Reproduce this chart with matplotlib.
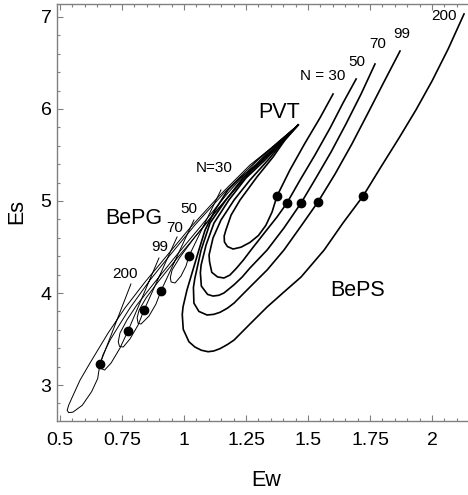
import matplotlib
matplotlib.use("Agg")
import matplotlib.pyplot as plt
from matplotlib.ticker import MultipleLocator

plt.rcParams['font.family'] = ['Liberation Sans', 'DejaVu Sans']

n_values = [30, 50, 70, 99, 200]

# BePS curves (thick): from PVT down the left branch, round the bottom, up to the labelled end
beps30_ew = [1.460, 1.407, 1.359, 1.294, 1.226, 1.190, 1.169, 1.162, 1.163, 1.175, 1.198, 1.230, 1.266, 1.300,
             1.330, 1.355, 1.375, 1.427, 1.488, 1.548, 1.601]
beps30_es = [5.826, 5.663, 5.478, 5.261, 5.011, 4.848, 4.685, 4.620, 4.555, 4.505, 4.478, 4.498, 4.550, 4.625,
             4.735, 4.880, 5.054, 5.337, 5.630, 5.902, 6.163]

beps50_ew = [1.460, 1.395, 1.339, 1.266, 1.202, 1.149, 1.117, 1.101, 1.103, 1.112, 1.135, 1.161, 1.185, 1.210,
             1.240, 1.270, 1.327, 1.375, 1.415, 1.468, 1.528, 1.589, 1.641, 1.694]
beps50_es = [5.826, 5.630, 5.446, 5.228, 5.011, 4.793, 4.598, 4.413, 4.340, 4.225, 4.175, 4.163, 4.195, 4.265,
             4.360, 4.467, 4.663, 4.826, 4.978, 5.228, 5.500, 5.793, 6.065, 6.326]

beps70_ew = [1.460, 1.391, 1.327, 1.250, 1.181, 1.121, 1.089, 1.069, 1.066, 1.070, 1.095, 1.117, 1.140, 1.161,
             1.202, 1.235, 1.266, 1.335, 1.403, 1.472, 1.532, 1.593, 1.653, 1.714, 1.770]
beps70_es = [5.826, 5.630, 5.446, 5.250, 5.011, 4.761, 4.522, 4.304, 4.220, 4.075, 3.985, 3.967, 3.975, 4.000,
             4.090, 4.175, 4.272, 4.467, 4.707, 4.978, 5.250, 5.533, 5.837, 6.163, 6.489]

beps99_ew = [1.460, 1.387, 1.315, 1.238, 1.169, 1.105, 1.069, 1.044, 1.038, 1.040, 1.060, 1.093, 1.120, 1.145,
             1.175, 1.202, 1.266, 1.335, 1.403, 1.472, 1.540, 1.609, 1.677, 1.742, 1.806, 1.871]
beps99_es = [5.826, 5.630, 5.435, 5.250, 5.011, 4.761, 4.467, 4.163, 4.060, 3.890, 3.800, 3.761, 3.768, 3.790,
             3.835, 3.891, 4.065, 4.250, 4.467, 4.728, 4.989, 5.293, 5.620, 5.957, 6.293, 6.630]

beps200_ew = [1.460, 1.379, 1.306, 1.226, 1.177, 1.125, 1.085, 1.060, 1.036, 1.012, 0.996, 0.993, 0.997, 1.020,
              1.044, 1.070, 1.097, 1.120, 1.145, 1.175, 1.202, 1.266, 1.335, 1.403, 1.472, 1.565, 1.641, 1.722,
              1.794, 1.867, 1.935, 2.000, 2.065, 2.129]
beps200_es = [5.826, 5.609, 5.424, 5.250, 5.120, 4.902, 4.685, 4.467, 4.250, 4.033, 3.848, 3.765, 3.605, 3.470,
              3.413, 3.378, 3.362, 3.370, 3.395, 3.440, 3.489, 3.663, 3.848, 4.011, 4.174, 4.467, 4.761, 5.054,
              5.370, 5.685, 5.989, 6.304, 6.652, 7.033]

# BePG curves (thin): from PVT down to the tip, back up through the dot to the labelled end
bepg30_ew = [1.460, 1.399, 1.319, 1.226, 1.125, 1.044, 0.984, 0.952, 0.945, 0.948, 0.964, 0.988, 1.008, 1.020, 1.149]
bepg30_es = [5.826, 5.674, 5.467, 5.185, 4.880, 4.609, 4.391, 4.250, 4.170, 4.120, 4.109, 4.185, 4.293, 4.402, 5.120]

bepg50_ew = [1.460, 1.391, 1.306, 1.194, 1.085, 0.976, 0.895, 0.847, 0.819, 0.811, 0.815, 0.827, 0.859, 0.887, 0.907, 1.040]
bepg50_es = [5.826, 5.663, 5.446, 5.098, 4.739, 4.391, 4.120, 3.946, 3.815, 3.730, 3.670, 3.663, 3.750, 3.880, 4.022, 4.793]

bepg70_ew = [1.460, 1.387, 1.298, 1.177, 1.065, 0.964, 0.883, 0.810, 0.770, 0.742, 0.735, 0.740, 0.755, 0.782, 0.815, 0.839, 0.972]
bepg70_es = [5.826, 5.652, 5.446, 5.087, 4.717, 4.391, 4.120, 3.870, 3.707, 3.565, 3.470, 3.420, 3.413, 3.500, 3.652, 3.815, 4.609]

bepg99_ew = [1.460, 1.379, 1.286, 1.165, 1.044, 0.944, 0.863, 0.782, 0.734, 0.702, 0.673, 0.662, 0.665, 0.680, 0.706, 0.742, 0.774, 0.899]
bepg99_es = [5.826, 5.641, 5.424, 5.098, 4.739, 4.413, 4.141, 3.837, 3.630, 3.489, 3.326, 3.230, 3.180, 3.163, 3.239, 3.402, 3.587, 4.380]

bepg200_ew = [1.460, 1.367, 1.266, 1.145, 1.024, 0.923, 0.843, 0.762, 0.694, 0.621, 0.581, 0.548, 0.535, 0.529,
              0.535, 0.552, 0.590, 0.628, 0.652, 0.661, 0.786]
bepg200_es = [5.826, 5.609, 5.391, 5.065, 4.707, 4.380, 4.120, 3.837, 3.565, 3.239, 3.054, 2.859, 2.780, 2.725,
              2.700, 2.705, 2.780, 2.930, 3.070, 3.228, 4.098]

# dots, in order N = 30, 50, 70, 99, 200
beps_dot_ew = [1.375, 1.415, 1.472, 1.540, 1.722]
beps_dot_es = [5.054, 4.978, 4.978, 4.989, 5.054]
bepg_dot_ew = [1.020, 0.907, 0.839, 0.774, 0.661]
bepg_dot_es = [4.402, 4.022, 3.815, 3.587, 3.228]

beps = [(beps30_ew, beps30_es), (beps50_ew, beps50_es), (beps70_ew, beps70_es),
        (beps99_ew, beps99_es), (beps200_ew, beps200_es)]
bepg = [(bepg30_ew, bepg30_es), (bepg50_ew, bepg50_es), (bepg70_ew, bepg70_es),
        (bepg99_ew, bepg99_es), (bepg200_ew, bepg200_es)]

fig = plt.figure(figsize=(4.68, 4.95), dpi=100)
ax = fig.add_axes([57 / 468, 74 / 495, 411 / 468, 417 / 495])

for ew, es in bepg:
    ax.plot(ew, es, color='black', lw=0.7, solid_joinstyle='round')
for ew, es in beps:
    ax.plot(ew, es, color='black', lw=1.2, solid_joinstyle='round')

ax.plot(beps_dot_ew, beps_dot_es, 'o', color='black', ms=6)
ax.plot(bepg_dot_ew, bepg_dot_es, 'o', color='black', ms=6)

# labels
ax.text(1.383, 5.967, 'PVT', fontsize=15.5, ha='center', va='center')
ax.text(1.698, 4.022, 'BePS', fontsize=15.5, ha='center', va='center')
ax.text(0.798, 4.815, 'BePG', fontsize=15.5, ha='center', va='center')

beps_lab_pos = [(1.560, 6.359), (1.698, 6.511), (1.782, 6.707), (1.879, 6.815), (2.048, 7.011)]
bepg_lab_pos = [(1.121, 5.359), (1.020, 4.913), (0.964, 4.707), (0.903, 4.500), (0.762, 4.207)]
for i, n in enumerate(n_values):
    t1 = 'N = %d' % n if i == 0 else str(n)
    t2 = 'N=%d' % n if i == 0 else str(n)
    ax.text(beps_lab_pos[i][0], beps_lab_pos[i][1], t1, fontsize=11, ha='center', va='center')
    ax.text(bepg_lab_pos[i][0], bepg_lab_pos[i][1], t2, fontsize=11, ha='center', va='center')

ax.set_xlim(0.488, 2.145)
ax.set_ylim(2.609, 7.141)
ax.set_xticks([0.5, 0.75, 1, 1.25, 1.5, 1.75, 2])
ax.set_xticklabels(['0.5', '0.75', '1', '1.25', '1.5', '1.75', '2'])
ax.set_yticks([3, 4, 5, 6, 7])
ax.xaxis.set_minor_locator(MultipleLocator(0.05))
ax.yaxis.set_minor_locator(MultipleLocator(0.2))

gray = '#808080'
for side in ['left', 'bottom', 'top']:
    ax.spines[side].set_color(gray)
    ax.spines[side].set_linewidth(1.0)
ax.spines['right'].set_visible(False)
ax.tick_params(which='both', direction='in', top=True, right=False, color=gray, width=0.8)
ax.tick_params(which='major', length=4, labelsize=14)
ax.tick_params(which='minor', length=2.2)
ax.tick_params(axis='x', which='major', pad=8)
ax.tick_params(axis='y', which='major', pad=4)

fig.text(266 / 468, 1 - 480 / 495, 'Ew', fontsize=15.5, ha='center', va='center')
fig.text(17 / 468, 1 - 211 / 495, 'Es', fontsize=15.5, ha='center', va='center', rotation=90)

fig.savefig('out.png', dpi=100)
